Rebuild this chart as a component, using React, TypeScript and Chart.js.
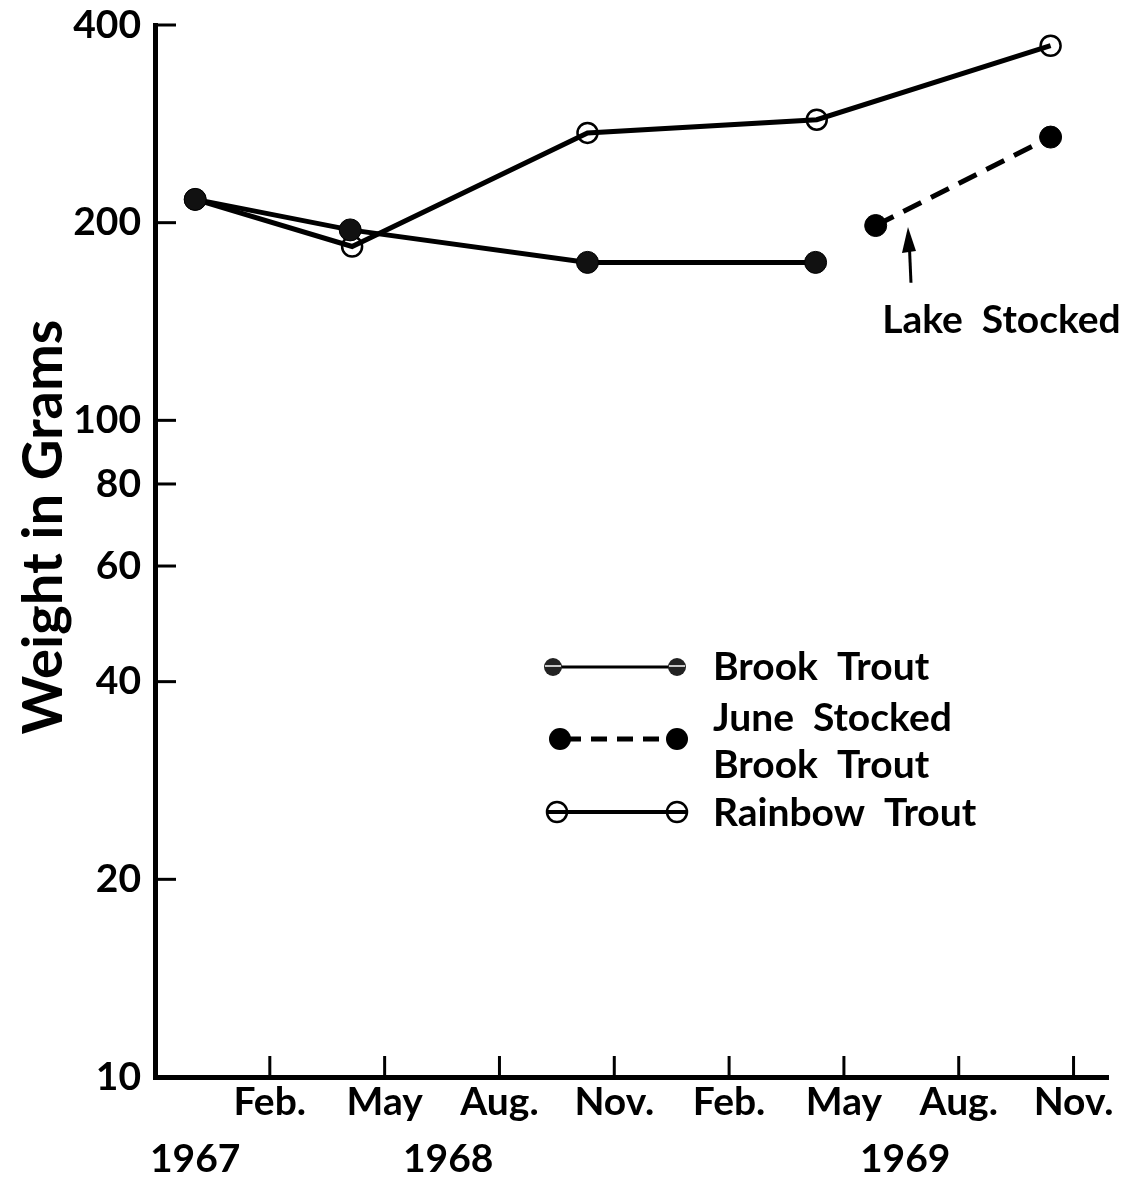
import React, { useEffect, useRef } from "react";
import { Chart, registerables } from "chart.js";

Chart.register(...registerables);

// Months counted from Nov. 1967 (0)
const monthTickValues = [3, 6, 9, 12, 15, 18, 21, 24];
const monthTickLabels = ["Feb.", "May", "Aug.", "Nov.", "Feb.", "May", "Aug.", "Nov."];
const yearLabels = ["1967", "1968", "1969"];
const yearLabelMonths = [1.05, 7.66, 19.6];
const weightTicks = [10, 20, 40, 60, 80, 100, 200, 400];

const brookMonths = [1.05, 5.1, 11.3, 17.26];
const brookWeights = [217, 195, 174, 174];

const rainbowMonths = [1.05, 5.15, 11.3, 17.29, 23.4];
const rainbowWeights = [217, 184, 274, 287, 372];

const juneMonths = [18.83, 23.4];
const juneWeights = [198, 270];

const lakeStockedMonth = 19.7;
const lakeStockedArrowTip = 197;
const lakeStockedArrowTail = 162;
const lakeStockedTextMonth = 19.0;
const lakeStockedTextWeight = 136;

const FONT = "Lato, 'DejaVu Sans', sans-serif";
const W = "bold";

const toPoints = (xs: number[], ys: number[]) => xs.map((x, i) => ({ x, y: ys[i] }));

export default function App() {
  const ref = useRef<HTMLCanvasElement | null>(null);

  useEffect(() => {
    const canvas = ref.current;
    if (!canvas) return;

    const overlay = {
      id: "overlay",
      afterDraw(chart: any) {
        const ctx = chart.ctx as CanvasRenderingContext2D;
        const xs = chart.scales.x;
        const ys = chart.scales.y;
        const area = chart.chartArea;
        ctx.save();
        ctx.strokeStyle = "#000";
        ctx.fillStyle = "#000";

        // inward tick marks
        ctx.lineWidth = 3;
        weightTicks.forEach((v) => {
          const y = ys.getPixelForValue(v);
          ctx.beginPath();
          ctx.moveTo(area.left, y);
          ctx.lineTo(area.left + 21, y);
          ctx.stroke();
        });
        monthTickValues.forEach((v) => {
          const x = xs.getPixelForValue(v);
          ctx.beginPath();
          ctx.moveTo(x, area.bottom);
          ctx.lineTo(x, area.bottom - 21);
          ctx.stroke();
        });

        // year labels
        ctx.font = `${W} 39px ${FONT}`;
        ctx.textAlign = "center";
        ctx.textBaseline = "alphabetic";
        yearLabels.forEach((t, i) => {
          ctx.fillText(t, xs.getPixelForValue(yearLabelMonths[i]), 1172);
        });

        // y axis title
        ctx.save();
        ctx.translate(44, 527);
        ctx.rotate(-Math.PI / 2);
        ctx.font = `${W} 56px ${FONT}`;
        ctx.textAlign = "center";
        ctx.textBaseline = "middle";
        ctx.fillText("Weight in Grams", 0, 0);
        ctx.restore();

        // legend
        // Brook trout
        ctx.lineWidth = 3;
        ctx.beginPath();
        ctx.moveTo(553, 667);
        ctx.lineTo(677, 667);
        ctx.stroke();
        [553, 677].forEach((cx) => {
          ctx.beginPath();
          ctx.arc(cx, 667, 9, 0, Math.PI * 2);
          ctx.fillStyle = "#222";
          ctx.fill();
          ctx.strokeStyle = "#fff";
          ctx.lineWidth = 1.5;
          ctx.beginPath();
          ctx.moveTo(cx - 8, 666);
          ctx.lineTo(cx + 8, 666);
          ctx.stroke();
          ctx.strokeStyle = "#000";
        });
        ctx.fillStyle = "#000";
        // June stocked
        ctx.lineWidth = 5;
        ctx.setLineDash([16, 10]);
        ctx.beginPath();
        ctx.moveTo(565, 739);
        ctx.lineTo(672, 739);
        ctx.stroke();
        ctx.setLineDash([]);
        [560, 677].forEach((cx) => {
          ctx.beginPath();
          ctx.arc(cx, 739, 11, 0, Math.PI * 2);
          ctx.fill();
        });
        // Rainbow
        ctx.lineWidth = 4;
        ctx.beginPath();
        ctx.moveTo(547, 812);
        ctx.lineTo(687, 812);
        ctx.stroke();
        ctx.lineWidth = 2.5;
        [557, 677].forEach((cx) => {
          ctx.beginPath();
          ctx.arc(cx, 812, 10, 0, Math.PI * 2);
          ctx.stroke();
        });

        ctx.font = `${W} 39px ${FONT}`;
        ctx.textAlign = "left";
        ctx.textBaseline = "alphabetic";
        ctx.fillText("Brook  Trout", 713, 680);
        ctx.fillText("June  Stocked", 713, 731);
        ctx.fillText("Brook  Trout", 713, 778);
        ctx.fillText("Rainbow  Trout", 713, 826);

        // Lake stocked annotation
        const ax = xs.getPixelForValue(lakeStockedMonth);
        const tipY = ys.getPixelForValue(lakeStockedArrowTip);
        const tailY = ys.getPixelForValue(lakeStockedArrowTail);
        ctx.lineWidth = 3;
        ctx.beginPath();
        ctx.moveTo(ax + 2, tailY);
        ctx.lineTo(ax, tipY + 10);
        ctx.stroke();
        ctx.beginPath();
        ctx.moveTo(ax - 1, tipY);
        ctx.lineTo(ax - 7, tipY + 26);
        ctx.lineTo(ax + 7, tipY + 24);
        ctx.closePath();
        ctx.fill();
        ctx.font = `${W} 39px ${FONT}`;
        ctx.textAlign = "left";
        ctx.fillText(
          "Lake  Stocked",
          xs.getPixelForValue(lakeStockedTextMonth),
          ys.getPixelForValue(lakeStockedTextWeight)
        );
        ctx.restore();
      },
    };

    const chart = new Chart(canvas, {
      type: "line",
      data: {
        datasets: [
          {
            label: "Brook Trout",
            data: toPoints(brookMonths, brookWeights),
            borderColor: "#000",
            borderWidth: 5,
            pointRadius: 11,
            pointBackgroundColor: "#111",
            pointBorderColor: "#000",
            pointBorderWidth: 1,
            fill: false,
          },
          {
            label: "June Stocked Brook Trout",
            data: toPoints(juneMonths, juneWeights),
            borderColor: "#000",
            borderWidth: 5,
            borderDash: [20, 11],
            pointRadius: 11,
            pointBackgroundColor: "#000",
            pointBorderColor: "#000",
            pointBorderWidth: 1,
            fill: false,
          },
          {
            label: "Rainbow Trout",
            data: toPoints(rainbowMonths, rainbowWeights),
            borderColor: "#000",
            borderWidth: 5,
            pointRadius: 10,
            pointBackgroundColor: "rgba(0,0,0,0)",
            pointBorderColor: "#000",
            pointBorderWidth: 2.5,
            fill: false,
          },
        ],
      },
      options: {
        responsive: false,
        animation: false,
        events: [],
        layout: { padding: { top: 25, right: 28, left: 0, bottom: 0 } },
        plugins: {
          legend: { display: false },
          tooltip: { enabled: false },
        },
        scales: {
          x: {
            type: "linear",
            min: 0,
            max: 24.9,
            grid: { display: false, drawTicks: false },
            border: { color: "#000", width: 5 },
            ticks: {
              color: "#000",
              font: { family: FONT, size: 39, weight: "bold" },
              padding: 2,
              autoSkip: false,
              maxRotation: 0,
              callback: (v: any) => {
                const i = monthTickValues.indexOf(Number(v));
                return i >= 0 ? monthTickLabels[i] : "";
              },
            },
            afterBuildTicks: (s: any) => {
              s.ticks = monthTickValues.map((v) => ({ value: v }));
            },
            afterFit: (s: any) => {
              s.height = 104;
              s.paddingLeft = 0;
              s.paddingRight = 0;
            },
          },
          y: {
            type: "logarithmic",
            min: 10,
            max: 400,
            grid: { display: false, drawTicks: false },
            border: { color: "#000", width: 5 },
            ticks: {
              color: "#000",
              font: { family: FONT, size: 39, weight: "bold" },
              padding: 14,
              autoSkip: false,
              callback: (v: any) => String(v),
            },
            afterBuildTicks: (s: any) => {
              s.ticks = weightTicks.map((v) => ({ value: v }));
            },
            afterFit: (s: any) => {
              s.width = 155;
              s.paddingTop = 0;
              s.paddingBottom = 0;
            },
          },
        },
      },
      plugins: [overlay],
    });

    return () => chart.destroy();
  }, []);

  return (
    <div style={{ position: "fixed", left: 0, top: 0, width: 1136, height: 1181, background: "#fff" }}>
      <canvas ref={ref} width={1136} height={1181} />
    </div>
  );
}
